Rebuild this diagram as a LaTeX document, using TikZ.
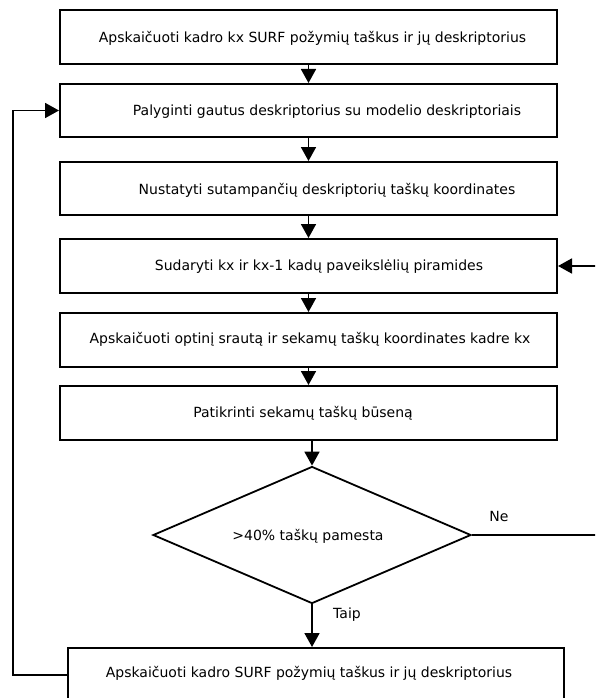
\documentclass[tikz,border=0pt]{standalone}
\usepackage{fontspec}
\setmainfont{DejaVu Sans}
\usetikzlibrary{arrows.meta,shapes.geometric}
\tikzset{
  box/.style={draw=black, line width=2pt, rectangle, minimum width=497pt, minimum height=54pt, inner sep=0pt, fill=white},
  dia/.style={draw=black, line width=1.8pt, diamond, minimum width=318pt, minimum height=137pt, inner sep=0pt, aspect=2.3},
  txt/.style={font=\fontsize{14}{16}\selectfont, text=black, inner sep=0pt},
  conn/.style={line width=1.8pt, -{Triangle[length=14pt,width=15pt]}},
  plain/.style={line width=1.4pt}
}
\begin{document}
\begin{tikzpicture}[x=1pt,y=-1pt]
\useasboundingbox (0,0) rectangle (595,698);
\clip (0,0) rectangle (595,698);
\fill[white] (0,0) rectangle (595,698);
% boxes
\node[box] (b1) at (308.5,37) {};
\node[box, minimum height=53pt] (b2) at (308.5,110.5) {};
\node[box, minimum height=53pt] (b3) at (308.5,188.5) {};
\node[box] (b4) at (308.5,266) {};
\node[box] (b5) at (308.5,340) {};
\node[box] (b6) at (308.5,413) {};
\node[dia] (d) at (312,535) {};
\node[box, minimum width=496pt] (b7) at (316,675) {};
% texts
\node[txt] (t1) at (312.5,38) {Apskaičuoti kadro kx SURF požymių taškus ir jų deskriptorius};
\node[txt] (t2) at (327,112) {Palyginti gautus deskriptorius su modelio deskriptoriais};
\node[txt] (t3) at (327,190) {Nustatyti sutampančių deskriptorių taškų koordinates};
\node[txt] (t4) at (319,267) {Sudaryti kx ir kx-1 kadų paveikslėlių piramides};
\node[txt] (t5) at (310,339) {Apskaičuoti optinį srautą ir sekamų taškų koordinates kadre kx};
\node[txt] (t6) at (303,413) {Patikrinti sekamų taškų būseną};
\node[txt] (t7) at (308,536) {>40\% taškų pamesta};
\node[txt] (t8) at (309,673) {Apskaičuoti kadro SURF požymių taškus ir jų deskriptorius};
\node[txt] (ne) at (499,516) {Ne};
\node[txt] (taip) at (347,615) {Taip};
% connectors
\draw[conn] (b1.south) -- (b2.north);
\draw[conn] (b2.south) -- (b3.north);
\draw[conn] (b3.south) -- (b4.north);
\draw[conn] (b4.south) -- (b5.north);
\draw[conn] (b5.south) -- (b6.north);
\draw[conn] (b6.south -| d.north) -- (d.north);
\draw[conn] (d.south) -- (d.south |- b7.north);
\coordinate (rc) at (598,535);
\draw[plain] (d.east) -- (rc);
\draw[conn] (rc) |- (b4.east);
\coordinate (lc) at (13,675);
\draw[conn] (b7.west) -- (lc) |- (b2.west);
\end{tikzpicture}
\end{document}
